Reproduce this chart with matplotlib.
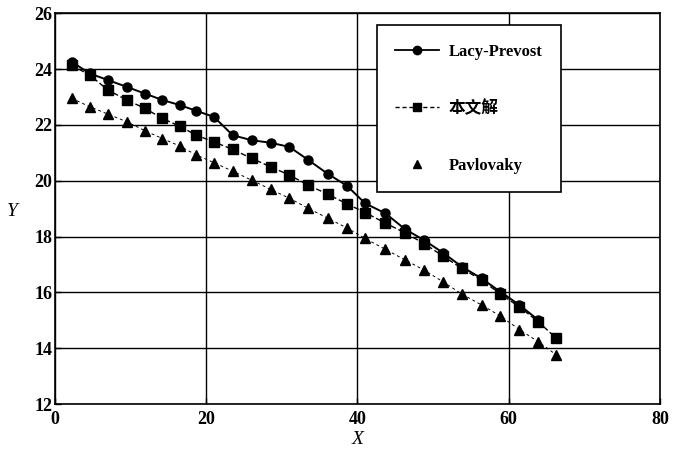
import matplotlib
matplotlib.use("Agg")
import matplotlib.pyplot as plt
from matplotlib.lines import Line2D

# data
x_pts = [2.2, 4.6, 7.05, 9.5, 11.9, 14.2, 16.5, 18.7, 21.0, 23.5, 26.0, 28.5, 31.0,
         33.5, 36.1, 38.6, 41.0, 43.7, 46.3, 48.8, 51.3, 53.8, 56.4, 58.9, 61.4, 63.9, 66.3]

lacy = [24.26, 23.84, 23.60, 23.36, 23.12, 22.89, 22.71, 22.50, 22.29, 21.63, 21.45,
        21.36, 21.21, 20.74, 20.24, 19.82, 19.19, 18.83, 18.26, 17.87, 17.42, 16.92,
        16.50, 16.02, 15.55, 15.01]
bwj = [24.14, 23.78, 23.24, 22.89, 22.59, 22.23, 21.95, 21.63, 21.39, 21.12, 20.80,
       20.50, 20.20, 19.84, 19.51, 19.17, 18.86, 18.48, 18.13, 17.75, 17.30, 16.86,
       16.44, 15.94, 15.48, 14.95, 14.35]
pavl = [22.95, 22.65, 22.38, 22.11, 21.79, 21.51, 21.24, 20.92, 20.65, 20.34, 20.02,
        19.69, 19.37, 19.01, 18.65, 18.31, 17.93, 17.54, 17.16, 16.80, 16.38, 15.94,
        15.55, 15.15, 14.67, 14.23, 13.76]

names = ["Lacy-Prevost", "本文解", "Pavlovaky"]

serif = ["Liberation Serif", "DejaVu Serif"]

fig = plt.figure(figsize=(6.73, 4.55), dpi=100)
ax = fig.add_axes([0.0817, 0.112, 0.899, 0.859])

ax.plot(x_pts[:len(lacy)], lacy, "-", color="black", lw=1.4,
        marker="o", ms=6.5, zorder=3)
ax.plot(x_pts, bwj, "--", color="black", lw=1.0, dashes=(4, 2),
        marker="s", ms=7, zorder=3)
ax.plot(x_pts, pavl, "--", color="black", lw=0.7, dashes=(3, 3),
        marker="^", ms=6.5, zorder=3)

ax.set_xlim(0, 80)
ax.set_ylim(12, 26)
ax.set_xticks([0, 20, 40, 60, 80])
ax.set_yticks(range(12, 27, 2))
ax.grid(True, color="black", lw=1.0)
ax.tick_params(direction="in", length=4, width=1, labelsize=13, pad=2)
ax.tick_params(axis="x", pad=5)
for lab in ax.get_xticklabels() + ax.get_yticklabels():
    lab.set_family(serif)
    lab.set_fontweight("bold")
for sp in ax.spines.values():
    sp.set_linewidth(1.2)

ax.set_xlabel("X", family=serif, style="italic", fontsize=14, labelpad=2)
ax.set_ylabel("Y", family=serif, style="italic", fontsize=14, rotation=0)
ax.yaxis.set_label_coords(-0.071, 0.47)

handles = [
    Line2D([], [], color="black", lw=1.3, marker="o", ms=6),
    Line2D([], [], color="black", lw=1.0, ls="--", dashes=(3, 2), marker="s", ms=6),
    Line2D([], [], color="black", lw=0, marker="^", ms=6),
]
leg = ax.legend(handles, names, loc="upper left", bbox_to_anchor=(0.532, 0.969),
                frameon=True, fancybox=False, edgecolor="black", framealpha=1,
                labelspacing=2.45, handlelength=2.6, borderpad=1.1,
                handletextpad=0.6, borderaxespad=0,
                prop={"family": ["Liberation Serif", "Noto Sans CJK SC"],
                      "size": 12, "weight": "bold"})
leg.get_frame().set_linewidth(1.2)

fig.savefig("out.png", dpi=100)
